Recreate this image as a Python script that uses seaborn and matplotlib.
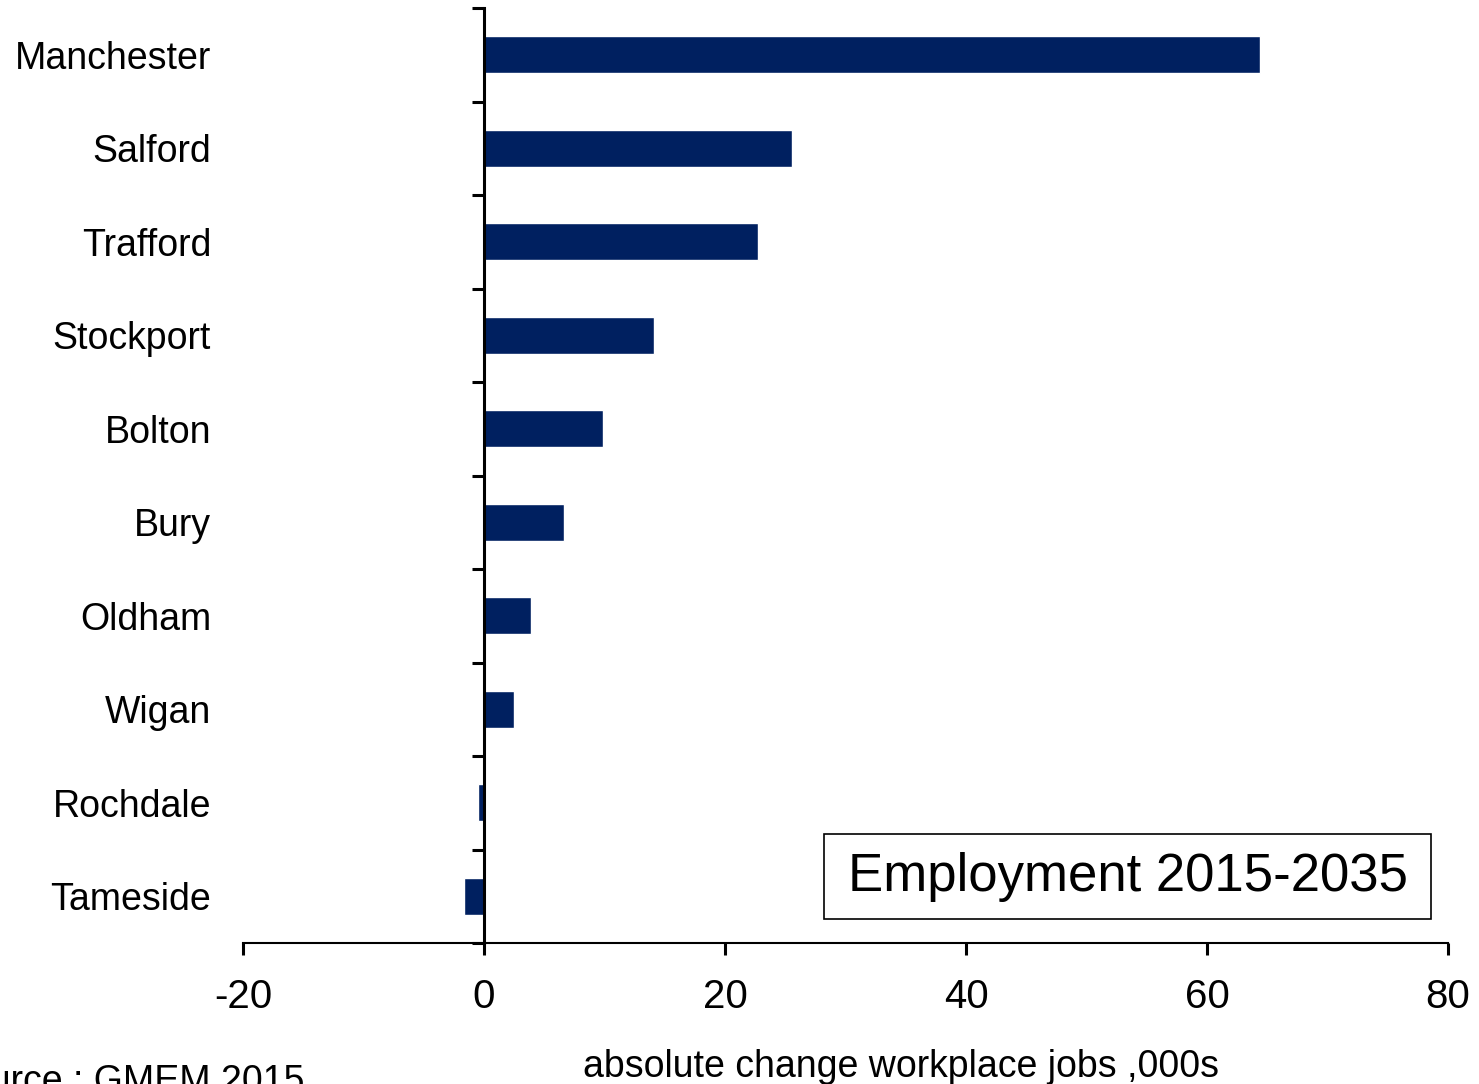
import numpy as np
import pandas as pd
import matplotlib
matplotlib.use("Agg")
import matplotlib.pyplot as plt
from matplotlib.patches import Rectangle
from matplotlib.transforms import blended_transform_factory
import seaborn as sns

# data (absolute change, thousands of jobs)
districts = ["Manchester", "Salford", "Trafford", "Stockport", "Bolton",
             "Bury", "Oldham", "Wigan", "Rochdale", "Tameside"]
job_change = [64.4, 25.6, 22.7, 14.1, 9.9, 6.6, 3.9, 2.5, -0.5, -1.7]
x_ticks = [-20, 0, 20, 40, 60, 80]

df = pd.DataFrame({"district": districts, "change": job_change})

sns.set_style("ticks")
plt.rcParams["font.family"] = ["Liberation Sans", "DejaVu Sans"]
plt.rcParams["text.color"] = "black"

fig = plt.figure(figsize=(14.79, 10.84), dpi=100)
ax = fig.add_axes([243 / 1479, 1 - 943 / 1084, 1205 / 1479, 935 / 1084])

sns.barplot(data=df, x="change", y="district", orient="h", color="#002060",
            width=0.4, saturation=1, ax=ax)

ax.set_xlim(-20, 80)
ax.set_ylim(9.5, -0.5)
ax.set_xticks(x_ticks)
ax.set_xticklabels([str(t) for t in x_ticks], fontsize=29)
ax.set_yticks(np.arange(-0.5, 10, 1))
ax.set_yticklabels([])
ax.set_xlabel("")
ax.set_ylabel("")

# vertical axis sits at zero, ticks mark category boundaries
ax.spines["left"].set_position(("data", 0))
ax.spines["left"].set_linewidth(2.2)
ax.spines["bottom"].set_linewidth(1.5)
ax.spines["top"].set_visible(False)
ax.spines["right"].set_visible(False)
for s in ["left", "bottom"]:
    ax.spines[s].set_color("black")
ax.tick_params(axis="x", bottom=True, direction="out", length=8.5, width=2.2,
               pad=17, color="black", labelcolor="black")
ax.tick_params(axis="y", left=True, direction="out", length=8.5, width=2.2,
               color="black")

# category labels at the left edge of the plot area
trans = blended_transform_factory(ax.transAxes, ax.transData)
for i, name in enumerate(districts):
    ax.text(-32 / 1205, i, name, transform=trans, ha="right",
            va="center_baseline", fontsize=27, color="black")

fig.text(901 / 1479, 1 - 1077 / 1084, "absolute change workplace jobs ,000s",
         ha="center", va="baseline", fontsize=27)
fig.text(305 / 1479, 1 - 1092 / 1084, "Source : GMEM 2015",
         ha="right", va="baseline", fontsize=27)

# title box
fig.patches.append(Rectangle((824 / 1479, 1 - 919 / 1084), 607 / 1479, 85 / 1084,
                             transform=fig.transFigure, fill=False,
                             edgecolor="black", linewidth=1.2))
fig.text(1127.5 / 1479, 1 - 877 / 1084, "Employment 2015-2035",
         ha="center", va="center", fontsize=38)

plt.savefig("out.png", dpi=100)
